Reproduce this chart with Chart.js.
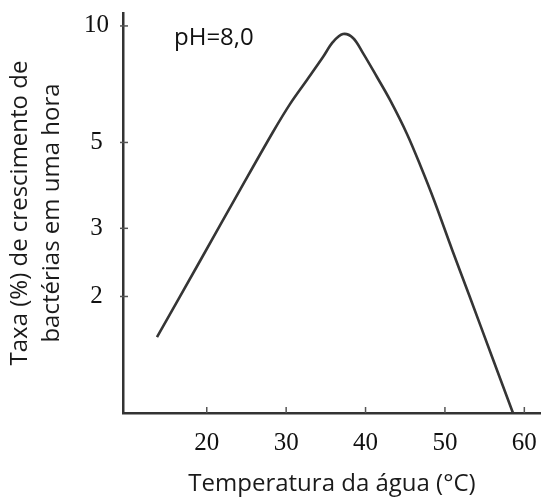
<!DOCTYPE html>
<html>
<head>
<meta charset="utf-8">
<script src="https://cdn.jsdelivr.net/npm/chart.js@4"></script>
<style>
    html, body { margin: 0; padding: 0; background: #fff; }
    #wrap { width: 541px; height: 499px; }
</style>
</head>
<body>
<div id="wrap"><canvas id="chart" width="541" height="499"></canvas></div>
<script>
// values
const temperatures = [13.73, 19.15, 24.19, 28.34, 30.48, 32.62, 34.64, 35.90, 37.16, 38.42, 39.68, 41.44, 43.08, 45.22, 46.98, 48.62, 50.88, 53.15, 55.92, 58.57];
const growthRates = [1.57, 2.47, 3.77, 5.32, 6.28, 7.25, 8.31, 9.09, 9.53, 9.31, 8.51, 7.38, 6.44, 5.26, 4.32, 3.55, 2.65, 1.99, 1.40, 1.00];
const xTicks = [20, 30, 40, 50, 60];
const yTicks = [2, 3, 5, 10];
const yTitle = ['Taxa (%) de crescimento de', 'bactérias em uma hora'];
const xTitle = 'Temperatura da água (°C)';
const note = 'pH=8,0';

let points = temperatures.map((t, i) => ({ x: t, y: growthRates[i] }));

// small tick marks drawn inside the plot, plus the pH note
const insideTicks = {
    id: 'insideTicks',
    afterDraw(chart) {
        const ctx = chart.ctx;
        const area = chart.chartArea;
        const x = chart.scales.x;
        const y = chart.scales.y;

        ctx.save();
        ctx.strokeStyle = '#555';
        ctx.lineWidth = 1.5;

        xTicks.forEach(v => {
            let px = x.getPixelForValue(v);
            ctx.beginPath();
            ctx.moveTo(px, area.bottom);
            ctx.lineTo(px, area.bottom - 6);
            ctx.stroke();
        });

        yTicks.forEach(v => {
            let py = y.getPixelForValue(v);
            ctx.beginPath();
            ctx.moveTo(area.left - 3, py);
            ctx.lineTo(area.left + 5, py);
            ctx.stroke();
        });

        ctx.fillStyle = '#111';
        ctx.font = '24px "Open Sans"';
        ctx.textBaseline = 'middle';
        ctx.textAlign = 'left';
        ctx.fillText(note, area.left + 51, area.top + 25);
        ctx.restore();
    }
};

let config = {
    type: 'line',
    data: {
        datasets: [
            {
                data: points,
                borderColor: '#353535',
                borderWidth: 2.6,
                pointRadius: 0,
                fill: false,
                tension: 0.35
            }
        ]
    },
    options: {
        responsive: false,
        animation: false,
        layout: { padding: { top: 13, left: 0, right: 0, bottom: 0 } },
        plugins: {
            legend: { display: false },
            tooltip: { enabled: false }
        },
        scales: {
            x: {
                type: 'linear',
                min: 9.45,
                max: 62.1,
                afterBuildTicks: scale => { scale.ticks = xTicks.map(v => ({ value: v })); },
                afterFit: scale => {
                    scale.height = 86;
                    scale.paddingLeft = 0;
                    scale.paddingRight = 0;
                },
                ticks: {
                    font: { family: 'Liberation Serif', size: 25 },
                    color: '#111',
                    padding: 15,
                    callback: v => String(v)
                },
                grid: { display: false, drawTicks: false },
                border: { display: true, color: '#333', width: 2.5 },
                title: {
                    display: true,
                    text: xTitle,
                    color: '#1a1a1a',
                    font: { family: 'Open Sans', size: 24 },
                    padding: { top: 0, bottom: 0 }
                }
            },
            y: {
                type: 'logarithmic',
                min: 1,
                max: 10.8,
                afterBuildTicks: scale => { scale.ticks = yTicks.map(v => ({ value: v })); },
                afterFit: scale => {
                    scale.width = 123;
                    scale.paddingTop = 0;
                    scale.paddingBottom = 0;
                },
                ticks: {
                    font: { family: 'Liberation Serif', size: 25 },
                    color: '#111',
                    padding: 14,
                    crossAlign: 'center',
                    callback: v => String(v)
                },
                grid: { display: false, drawTicks: false },
                border: { display: true, color: '#333', width: 2.5 },
                title: {
                    display: true,
                    text: yTitle,
                    color: '#1a1a1a',
                    font: { family: 'Open Sans', size: 24, lineHeight: 1.3 },
                    padding: { top: 5, bottom: 0 }
                }
            }
        }
    },
    plugins: [insideTicks]
};

let canvas = document.getElementById('chart');
let chart = new Chart(canvas, config);
</script>
</body>
</html>
